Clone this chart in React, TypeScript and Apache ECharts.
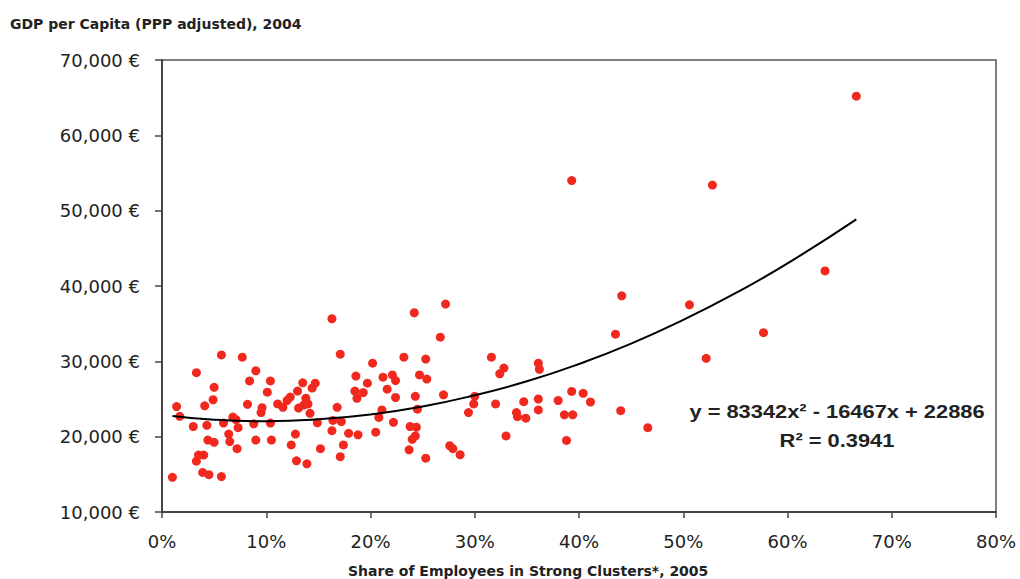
import React, { useEffect, useRef } from "react";
import * as echarts from "echarts";

// Share of employees in strong clusters (%), GDP per capita (€)
const points: [number, number][] = [
  [1.0, 14600], [1.4, 24000], [1.7, 22700], [3.0, 21350], [3.3, 28500], [3.3, 16750],
  [3.5, 17550], [4.0, 17550], [3.9, 15250], [4.5, 14950], [4.1, 24100], [4.3, 21500],
  [4.4, 19550], [4.9, 24900], [5.0, 26550], [5.0, 19250], [5.7, 14700], [5.7, 30850],
  [5.9, 21800], [6.4, 20350], [6.5, 19350], [6.8, 22600], [7.1, 22250], [7.3, 21200],
  [7.2, 18400], [7.7, 30550], [8.2, 24300], [8.4, 27400], [8.8, 21700], [9.0, 28750],
  [9.0, 19550], [9.6, 23850], [9.5, 23200], [10.1, 25900], [10.4, 27400], [10.4, 21800],
  [10.5, 19550],
  [11.1, 24350], [11.6, 23900], [12.0, 24800], [12.3, 25250], [12.4, 18900], [12.8, 20350],
  [12.9, 16800], [13.0, 26050], [13.1, 23800], [13.5, 27150], [13.6, 24200], [13.8, 25100],
  [13.9, 16400], [14.0, 24350], [14.2, 23100], [14.4, 26450], [14.7, 27100], [14.9, 21850],
  [15.2, 18400], [16.3, 35650], [16.3, 20800], [16.4, 22150], [16.8, 23900], [17.1, 30950],
  [17.1, 17350], [17.2, 22000], [17.4, 18900], [17.9, 20450], [18.5, 26050], [18.6, 28050],
  [18.7, 25100], [18.8, 20250], [19.3, 25850], [19.7, 27100], [20.2, 29750], [20.5, 20600],
  [20.8, 22550], [21.1, 23550], [21.2, 27900], [21.6, 26300], [22.1, 28200], [22.2, 21900],
  [22.4, 27450], [22.4, 25200], [23.2, 30550], [23.7, 18250], [23.8, 21350], [24.0, 19650],
  [24.2, 36450], [24.3, 25350], [24.3, 20100], [24.4, 21250], [24.5, 23650], [24.7, 28200],
  [25.3, 30300], [25.3, 17150], [25.4, 27650], [26.7, 33200], [27.0, 25550], [27.2, 37600],
  [27.6, 18800], [27.9, 18400], [28.6, 17600], [29.4, 23200],
  [29.9, 24350], [30.0, 25350], [31.6, 30550], [32.0, 24350], [32.4, 28350], [32.8, 29100],
  [33.0, 20100], [34.0, 23200], [34.1, 22650], [34.7, 24650], [34.9, 22450], [36.1, 29750],
  [36.2, 28950], [36.1, 25000], [36.1, 23550], [38.0, 24800], [38.6, 22900], [38.8, 19500],
  [39.3, 54000], [39.3, 26000], [39.4, 22900], [40.4, 25750], [41.1, 24600], [43.5, 33600],
  [44.1, 38700], [44.0, 23450], [46.6, 21200], [50.6, 37500], [52.2, 30400], [52.8, 53400],
  [57.7, 33800], [63.6, 42000], [66.6, 65200],
];

// Polynomial trend line
const trend: [number, number][] = [
  [1.0, 22750], [5, 22250], [10, 22050], [15, 22300], [20, 22950], [25, 24000],
  [30, 25500], [35, 27350], [40, 29650], [45, 32350], [50, 35500], [55, 39050],
  [60, 43000], [66.6, 48850],
];

const titleText = "GDP per Capita (PPP adjusted), 2004";
const xAxisName = "Share of Employees in Strong Clusters*, 2005";
const equationText = "y = 83342x² - 16467x + 22886";
const r2Text = "R² = 0.3941";

export default function App() {
  const ref = useRef<HTMLDivElement>(null);
  useEffect(() => {
    if (!ref.current) return;
    const chart = echarts.init(ref.current, null, { renderer: "svg" });
    const axisFont = { fontFamily: "DejaVu Sans", fontSize: 18, color: "#222" };
    chart.setOption({
      animation: false,
      backgroundColor: "#ffffff",
      grid: {
        left: 162, right: 24, top: 60, bottom: 67,
        show: true, borderColor: "#555", borderWidth: 1.5, backgroundColor: "transparent",
      },
      xAxis: {
        type: "value", min: 0, max: 80, interval: 10,
        axisLine: { show: true, onZero: false, lineStyle: { color: "#444", width: 2 } },
        axisTick: { show: true, length: 6, lineStyle: { color: "#444", width: 1.5 } },
        axisLabel: { ...axisFont, margin: 20, formatter: (v: number) => `${v}%` },
        splitLine: { show: false },
      },
      yAxis: {
        type: "value", min: 10000, max: 70000, interval: 10000,
        axisLine: { show: true, lineStyle: { color: "#444", width: 2 } },
        axisTick: { show: true, length: 7, lineStyle: { color: "#444", width: 1.5 } },
        axisLabel: {
          ...axisFont, margin: 22,
          formatter: (v: number) => `${v.toLocaleString("en-US")} €`,
        },
        splitLine: { show: false },
      },
      series: [
        {
          type: "scatter",
          data: points,
          symbol: "circle",
          symbolSize: 9,
          itemStyle: { color: "#f0281e", opacity: 1 },
          z: 2,
        },
        {
          type: "line",
          data: trend,
          smooth: true,
          showSymbol: false,
          lineStyle: { color: "#000", width: 2 },
          z: 3,
        },
      ],
      graphic: [
        {
          type: "text", left: 10, top: 17,
          style: { text: titleText, font: "bold 14px 'DejaVu Sans'", fill: "#222" },
        },
        {
          type: "text", left: 348, top: 564,
          style: { text: xAxisName, font: "bold 14px 'DejaVu Sans'", fill: "#222" },
        },
        {
          type: "text", x: 837, y: 411, z: 10, scaleX: 1.15,
          style: {
            text: equationText, font: "bold 19px 'Liberation Sans'", fill: "#222",
            align: "center", verticalAlign: "middle",
          },
        },
        {
          type: "text", x: 837, y: 440, z: 10, scaleX: 1.15,
          style: {
            text: r2Text, font: "bold 19px 'Liberation Sans'", fill: "#222",
            align: "center", verticalAlign: "middle",
          },
        },
      ],
    });
    return () => chart.dispose();
  }, []);
  return (
    <div
      ref={ref}
      style={{ position: "fixed", left: 0, top: 0, width: 1020, height: 579 }}
    />
  );
}
